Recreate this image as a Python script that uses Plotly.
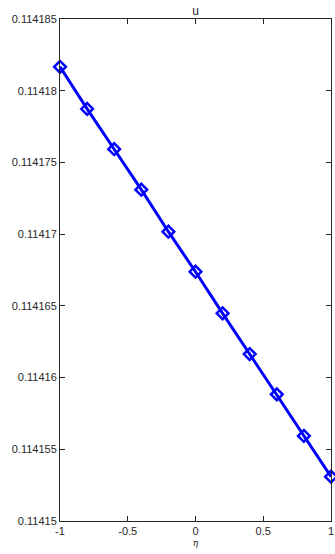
import plotly.graph_objects as go

eta = [-1.0, -0.8, -0.6, -0.4, -0.2, 0.0, 0.2, 0.4, 0.6, 0.8, 1.0]
u = [0.11418167, 0.11417873, 0.11417592, 0.11417310, 0.11417017, 0.11416738,
     0.11416448, 0.11416164, 0.11415883, 0.11415593, 0.11415309]

y_ticks = [0.11415, 0.114155, 0.11416, 0.114165, 0.11417, 0.114175, 0.11418, 0.114185]
y_labels = ["0.11415", "0.114155", "0.11416", "0.114165", "0.11417", "0.114175", "0.11418", "0.114185"]
x_ticks = [-1, -0.5, 0, 0.5, 1]
x_labels = ["-1", "-0.5", "0", "0.5", "1"]

fig = go.Figure()
fig.add_trace(go.Scatter(
    x=eta, y=u, mode="lines+markers",
    line=dict(color="#0000ff", width=3),
    marker=dict(symbol="diamond-open", size=9, color="#0000ff", line=dict(width=2.5, color="#0000ff")),
    cliponaxis=False, showlegend=False,
))

font = dict(family="Liberation Sans, Arial, sans-serif", size=11, color="#262626")
fig.update_layout(
    width=335, height=554,
    margin=dict(l=60, r=1, t=19, b=33),
    paper_bgcolor="white", plot_bgcolor="white",
    font=font,
    title=dict(text="u", x=0.5, xref="paper", xanchor="center", y=1 - 10.5/554, yanchor="middle",
               font=dict(size=12, color="#262626", family="Liberation Sans, Arial, sans-serif")),
    xaxis=dict(
        range=[-1, 1], tickvals=x_ticks, ticktext=x_labels,
        ticks="inside", ticklen=5, tickcolor="#262626", tickwidth=1,
        showline=True, linecolor="#262626", linewidth=1, mirror="ticks",
        showgrid=False, zeroline=False, ticklabeloverflow="allow",
        title=dict(text="<i>η</i>", standoff=3, font=dict(size=9, family="DejaVu Serif, serif", color="#262626")),
    ),
    yaxis=dict(
        range=[0.11415, 0.114185], tickvals=y_ticks, ticktext=y_labels,
        ticks="inside", ticklen=5, tickcolor="#262626", tickwidth=1,
        showline=True, linecolor="#262626", linewidth=1, mirror="ticks",
        showgrid=False, zeroline=False, ticklabeloverflow="allow",
    ),
)

fig.write_html("out.html")
